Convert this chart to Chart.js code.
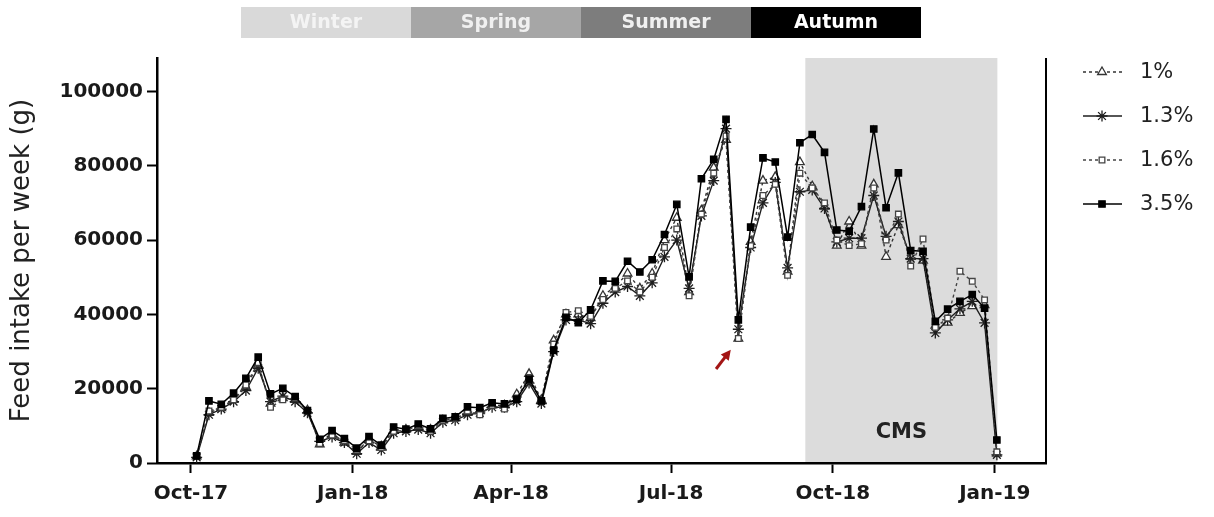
<!DOCTYPE html>
<html>
<head>
<meta charset="utf-8">
<script src="https://cdn.jsdelivr.net/npm/chart.js@4.4.1/dist/chart.umd.min.js"></script>
<style>
  html, body { margin: 0; padding: 0; background: #fff; }
  #wrap { position: relative; width: 1214px; height: 517px; }
</style>
</head>
<body>
<div id="wrap"><canvas id="feedChart"></canvas></div>
<script>
// weekly feed intake (g), one value per week, first week just after the Oct-17 tick
const seriesNames = ['1%', '1.3%', '1.6%', '3.5%'];
const pct1 = [1800, 13500, 14800, 17000, 20500, 26500, 16000, 17500, 17000, 14200,
  5000, 7800, 5500, 3000, 6200, 4500, 8800, 9000, 9500, 9000,
  11500, 12000, 13500, 14000, 15500, 15500, 18500, 24000, 17000, 33000,
  40000, 40000, 39000, 45000, 47500, 51000, 47000, 51000, 60000, 66000,
  46000, 68000, 79500, 87000, 33500, 59500, 76000, 77000, 51500, 81000,
  74500, 69000, 58500, 65000, 58500, 75000, 55500, 64000, 55500, 54500,
  37000, 37800, 40400, 42200, 42500, 2500];
const pct13 = [1500, 13000, 14500, 16500, 19500, 25500, 16500, 18000, 16500, 13500,
  5800, 7000, 5500, 2500, 5500, 3500, 8000, 8500, 9000, 8000,
  11000, 11500, 13000, 13500, 15000, 15000, 16500, 21500, 16000, 30000,
  38500, 38500, 37500, 43000, 46000, 47500, 45000, 48500, 55500, 60000,
  47000, 66500, 76000, 90000, 36000, 58000, 70000, 75500, 52500, 73000,
  73500, 68500, 59500, 60500, 60500, 72000, 61000, 65000, 55000, 55000,
  35000, 38500, 41500, 43500, 37700, 2200];
const pct16 = [2000, 14000, 15000, 17000, 21000, 27000, 15000, 17000, 17500, 14000,
  5200, 7500, 6000, 3500, 6000, 4200, 8500, 8800, 10000, 8500,
  11500, 12000, 14000, 13000, 15500, 14500, 17500, 23000, 16500, 32000,
  40500, 41000, 39500, 44000, 47000, 49000, 46000, 50000, 58000, 63000,
  45000, 67000, 78000, 88000, 33500, 58500, 72000, 75000, 50500, 78000,
  74000, 70000, 60000, 58500, 59000, 74000, 60000, 67000, 53000, 60300,
  36500, 39000, 51600, 48900, 43900, 3000];
const pct35 = [1900, 16700, 15800, 18800, 22800, 28500, 18600, 20100, 17900, 14100,
  6400, 8700, 6600, 4000, 7100, 4800, 9700, 9100, 10500, 9200,
  12000, 12400, 15100, 14900, 16200, 15900, 17200, 22600, 16700, 30400,
  39200, 37800, 41200, 49000, 48900, 54300, 51400, 54700, 61500, 69600,
  50100, 76500, 81700, 92500, 38500, 63500, 82100, 81000, 60800, 86200,
  88400, 83600, 62700, 62400, 69000, 89900, 68700, 78100, 57200, 57000,
  38100, 41400, 43500, 45300, 41700, 6200];

const tickLabels = ['Oct-17', 'Jan-18', 'Apr-18', 'Jul-18', 'Oct-18', 'Jan-19'];
const tickWeeks = [0, 13.14, 26, 39, 52.14, 65.29];   // weeks since 1 Oct 2017
const yTicks = [0, 20000, 40000, 60000, 80000, 100000];
const seasons = ['Winter', 'Spring', 'Summer', 'Autumn'];
const firstWeek = 0.46;
const cmsStart = 49.9, cmsEnd = 65.5;
const arrowTail = [42.65, 25300], arrowTip = [43.85, 30500];

const toPoints = arr => arr.map((v, i) => ({ x: firstWeek + i, y: v }));

// look of each series
const looks = {
  '1%':   { dash: [3, 3], style: 'triangle', fill: '#fff', r: 5,   lw: 1.4, col: '#333' },
  '1.3%': { dash: [],     style: 'star',     fill: '#fff', r: 5.5, lw: 1.4, col: '#1e1e1e' },
  '1.6%': { dash: [3, 3], style: 'rect',     fill: '#fff', r: 4,   lw: 1.4, col: '#444' },
  '3.5%': { dash: [],     style: 'rect',     fill: '#000', r: 4.5, lw: 1.5, col: '#000' }
};
const allSeries = [pct1, pct13, pct16, pct35];

const datasets = seriesNames.map((name, k) => {
  const lk = looks[name];
  return {
    label: name,
    data: toPoints(allSeries[k]),
    borderColor: lk.col,
    borderWidth: lk.lw,
    borderDash: lk.dash,
    pointStyle: lk.style,
    pointRadius: lk.r,
    pointBackgroundColor: lk.fill,
    pointBorderColor: lk.col,
    pointBorderWidth: 1.3,
    tension: 0,
    order: 3 - k
  };
});

const FONT = "'DejaVu Sans', Arial, sans-serif";

const decor = {
  id: 'decor',
  beforeDraw(chart) {
    const { ctx, chartArea: a, scales: { x } } = chart;
    ctx.save();
    ctx.fillStyle = '#fff';
    ctx.fillRect(0, 0, chart.width, chart.height);
    // CMS period
    const x0 = x.getPixelForValue(cmsStart), x1 = x.getPixelForValue(cmsEnd);
    ctx.fillStyle = '#dcdcdc';
    ctx.fillRect(x0, a.top, x1 - x0, a.bottom - a.top);
    ctx.restore();
  },
  afterDraw(chart) {
    const { ctx, chartArea: a, scales: { x, y } } = chart;
    ctx.save();

    // right frame line
    ctx.strokeStyle = '#000';
    ctx.lineWidth = 2;
    ctx.beginPath();
    ctx.moveTo(a.right, a.top);
    ctx.lineTo(a.right, a.bottom);
    ctx.stroke();

    // CMS label
    const cx = (x.getPixelForValue(cmsStart) + x.getPixelForValue(cmsEnd)) / 2;
    ctx.fillStyle = '#222';
    ctx.font = 'bold 21px ' + FONT;
    ctx.textAlign = 'center';
    ctx.textBaseline = 'middle';
    ctx.fillText('CMS', cx, 433);

    // season bar
    const sx = 241, sw = 170, sy = 7, sh = 31;
    const bg = ['#d9d9d9', '#a6a6a6', '#7d7d7d', '#000'];
    const fg = ['#f4f4f4', '#f0f0f0', '#f0f0f0', '#fff'];
    seasons.forEach((s, i) => {
      ctx.fillStyle = bg[i];
      ctx.fillRect(sx + i * sw, sy, sw, sh);
      ctx.fillStyle = fg[i];
      ctx.font = 'bold 19px ' + FONT;
      ctx.fillText(s, sx + i * sw + sw / 2, sy + sh / 2 + 1);
    });

    // red arrow
    const tx = x.getPixelForValue(arrowTail[0]), ty = y.getPixelForValue(arrowTail[1]);
    const hx = x.getPixelForValue(arrowTip[0]), hy = y.getPixelForValue(arrowTip[1]);
    const ang = Math.atan2(hy - ty, hx - tx);
    ctx.strokeStyle = '#a31515';
    ctx.fillStyle = '#a31515';
    ctx.lineWidth = 3;
    ctx.beginPath();
    ctx.moveTo(tx, ty);
    ctx.lineTo(hx - 6 * Math.cos(ang), hy - 6 * Math.sin(ang));
    ctx.stroke();
    ctx.beginPath();
    ctx.moveTo(hx, hy);
    ctx.lineTo(hx - 10 * Math.cos(ang) + 5 * Math.sin(ang), hy - 10 * Math.sin(ang) - 5 * Math.cos(ang));
    ctx.lineTo(hx - 10 * Math.cos(ang) - 5 * Math.sin(ang), hy - 10 * Math.sin(ang) + 5 * Math.cos(ang));
    ctx.closePath();
    ctx.fill();

    // legend
    ctx.textAlign = 'left';
    ctx.font = '21px ' + FONT;
    seriesNames.forEach((name, i) => {
      const lk = looks[name];
      const ly = 72 + i * 44;
      ctx.strokeStyle = lk.col;
      ctx.lineWidth = lk.lw;
      ctx.setLineDash(lk.dash);
      ctx.beginPath();
      ctx.moveTo(1083, ly);
      ctx.lineTo(1122, ly);
      ctx.stroke();
      ctx.setLineDash([]);
      ctx.fillStyle = lk.fill;
      ctx.strokeStyle = lk.col;
      ctx.lineWidth = 1.3;
      Chart.helpers.drawPoint(ctx, { pointStyle: lk.style, radius: lk.r, borderWidth: 1.3, rotation: 0 }, 1102, ly);
      ctx.fillStyle = '#222';
      ctx.fillText(name, 1140, ly + 1);
    });
    ctx.restore();
  }
};

new Chart(document.getElementById('feedChart'), {
  type: 'line',
  data: { datasets },
  options: {
    responsive: true,
    maintainAspectRatio: false,
    animation: false,
    devicePixelRatio: 1,
    layout: { padding: { left: 0, right: 168, top: 58, bottom: 0 } },
    plugins: { legend: { display: false }, tooltip: { enabled: false } },
    scales: {
      x: {
        type: 'linear',
        min: -2.76,
        max: 69.45,
        afterBuildTicks: s => { s.ticks = tickWeeks.map(v => ({ value: v })); },
        afterFit: s => { s.height = 54; },
        ticks: {
          autoSkip: false,
          maxRotation: 0,
          padding: 9,
          color: '#1a1a1a',
          font: { family: FONT, size: 20, weight: 'bold' },
          callback: (v, i) => tickLabels[i]
        },
        grid: { drawOnChartArea: false, drawTicks: true, tickLength: 10, tickWidth: 2, color: '#000' },
        border: { display: true, color: '#000', width: 2.5 }
      },
      y: {
        min: 0,
        max: 109000,
        afterBuildTicks: s => { s.ticks = yTicks.map(v => ({ value: v })); },
        afterFit: s => { s.width = 157; },
        ticks: {
          padding: 4,
          color: '#1a1a1a',
          font: { family: FONT, size: 20, weight: 'bold' },
          callback: v => String(v)
        },
        grid: { drawOnChartArea: false, drawTicks: true, tickLength: 10, tickWidth: 2, color: '#000' },
        border: { display: true, color: '#000', width: 2.5 },
        title: {
          display: true,
          text: 'Feed intake per week (g)',
          color: '#222',
          font: { family: FONT, size: 26 },
          padding: { top: 7, bottom: 0 }
        }
      }
    }
  },
  plugins: [decor]
});
</script>
</body>
</html>
